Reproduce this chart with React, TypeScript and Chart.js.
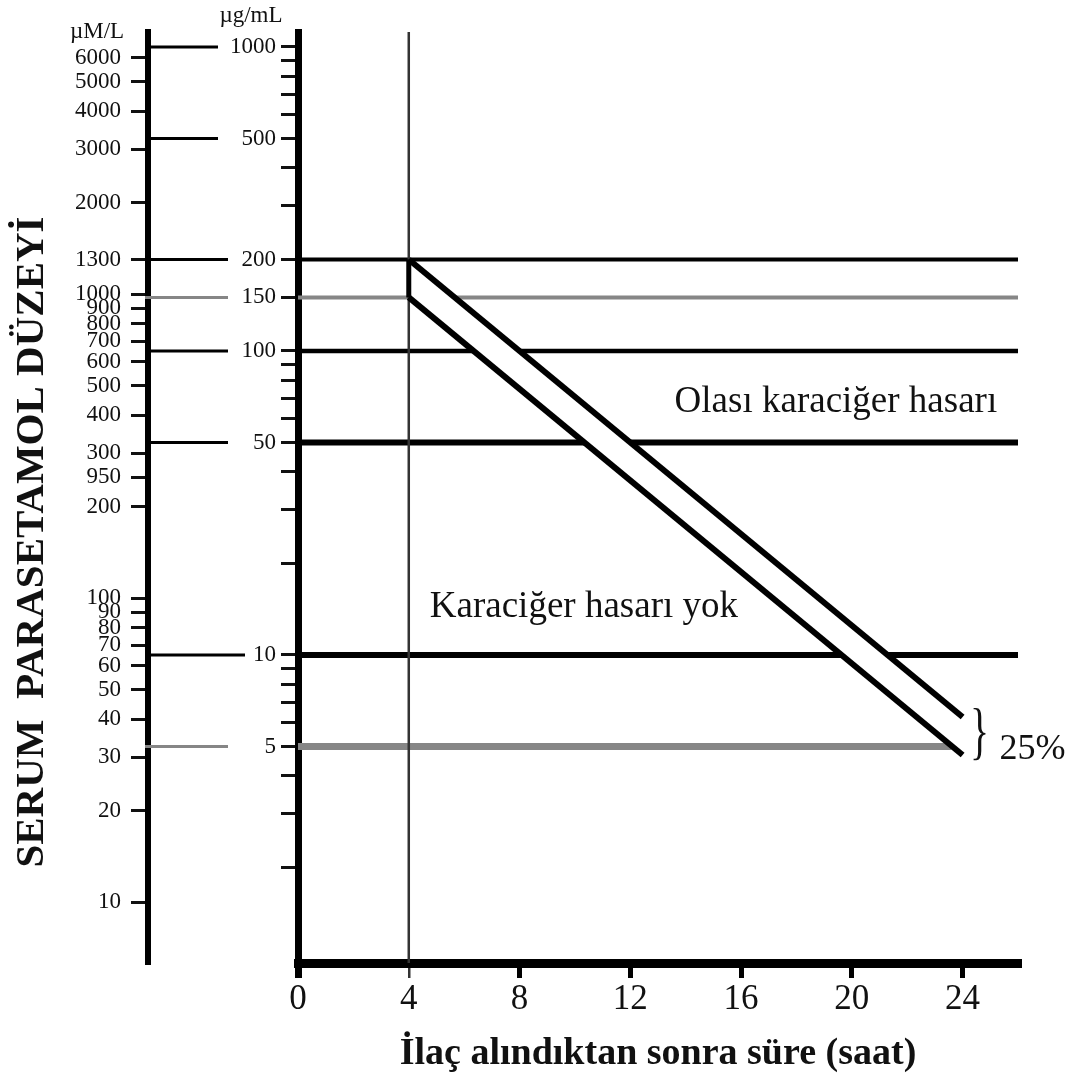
import React, { useEffect, useRef } from 'react';
import { Chart, registerables } from 'chart.js';

Chart.register(...registerables);

// ---------- data ----------
const HOUR_TICKS = [0, 4, 8, 12, 16, 20, 24];
const UG_TICKS = [1000, 900, 800, 700, 600, 500, 400, 300, 200, 150, 100, 90, 80, 70, 60, 50, 40, 30, 20, 10, 9, 8, 7, 6, 5, 4, 3, 2];
const UG_LABELED = [1000, 500, 200, 150, 100, 50, 10, 5];
const UM_TICKS = [6000, 5000, 4000, 3000, 2000, 1300, 1000, 900, 800, 700, 600, 500, 400, 300, 250, 200, 100, 90, 80, 70, 60, 50, 40, 30, 20, 10];
const UM_LABELS = ['6000', '5000', '4000', '3000', '2000', '1300', '1000', '900', '800', '700', '600', '500', '400', '300', '950', '200', '100', '90', '80', '70', '60', '50', '40', '30', '20', '10'];
const UM_PER_UG = 6.5;
const LEVELS = [200, 150, 100, 50, 10, 5];
const LEVEL_END_HOURS = [26, 26, 26, 26, 26, 23.6];
const CONNECTOR_LEVELS = [1000, 500, 200, 150, 100, 50, 10, 5];
const UPPER_LINE = [{ x: 4, y: 200 }, { x: 24, y: 6.25 }];
const LOWER_LINE = [{ x: 4, y: 150 }, { x: 24, y: 4.6875 }];
const REF_HOUR = 4;
const X_MIN = 0, X_MAX = 26, Y_MIN = 0.97, Y_MAX = 1120;
const ANNOTATIONS = [
  { text: 'Olası karaciğer hasarı', x: 13.6, y: 63 },
  { text: 'Karaciğer hasarı yok', x: 4.76, y: 13.3 },
];
const BAND_LABEL = '25%';
const X_TITLE = 'İlaç alındıktan sonra süre (saat)';
const Y_TITLE = 'SERUM  PARASETAMOL DÜZEYİ';
const UM_UNIT = 'µM/L';
const UG_UNIT = 'µg/mL';

// ---------- styles ----------
const SERIF = "'Liberation Serif', 'Times New Roman', serif";
const INK = '#111';
const GRAY = '#868686';
const LEVEL_STYLE: Record<number, { color: string; width: number }> = {
  200: { color: '#000', width: 4 },
  150: { color: GRAY, width: 4 },
  100: { color: '#000', width: 4.5 },
  50: { color: '#000', width: 6 },
  10: { color: '#000', width: 6 },
  5: { color: GRAY, width: 7 },
};
const CONNECTOR_STYLE: Record<number, { from: number; to: number; color: string }> = {
  1000: { from: 151, to: 218, color: '#000' },
  500: { from: 151, to: 218, color: '#000' },
  200: { from: 151, to: 228, color: '#000' },
  150: { from: 145, to: 228, color: GRAY },
  100: { from: 151, to: 228, color: '#000' },
  50: { from: 151, to: 228, color: '#000' },
  10: { from: 151, to: 245, color: '#000' },
  5: { from: 145, to: 228, color: GRAY },
};

const decorPlugin = {
  id: 'decor',
  afterDraw(chart: any) {
    const ctx = chart.ctx as CanvasRenderingContext2D;
    const xs = chart.scales.x;
    const ys = chart.scales.y;
    ctx.save();
    // connectors between the two concentration scales
    ctx.lineCap = 'butt';
    for (const lv of CONNECTOR_LEVELS) {
      const st = CONNECTOR_STYLE[lv];
      const py = ys.getPixelForValue(lv);
      ctx.strokeStyle = st.color;
      ctx.lineWidth = 3;
      ctx.beginPath();
      ctx.moveTo(st.from, py);
      ctx.lineTo(st.to, py);
      ctx.stroke();
    }
    ctx.fillStyle = INK;
    // unit headers
    ctx.font = `23px ${SERIF}`;
    ctx.textAlign = 'center';
    ctx.textBaseline = 'alphabetic';
    ctx.fillText(UM_UNIT, 97, 38);
    ctx.fillText(UG_UNIT, 251, 22);
    // annotations
    ctx.font = `37px ${SERIF}`;
    ctx.textAlign = 'left';
    for (const a of ANNOTATIONS) {
      ctx.fillText(a.text, xs.getPixelForValue(a.x), ys.getPixelForValue(a.y));
    }
    // brace + 25%
    const endX = xs.getPixelForValue(UPPER_LINE[1].x);
    const midY = (ys.getPixelForValue(UPPER_LINE[1].y) + ys.getPixelForValue(LOWER_LINE[1].y)) / 2;
    ctx.save();
    ctx.translate(endX + 17, midY - 1);
    ctx.scale(0.62, 1);
    ctx.font = `64px ${SERIF}`;
    ctx.textAlign = 'center';
    ctx.textBaseline = 'middle';
    ctx.fillText('}', 0, 0);
    ctx.restore();
    ctx.font = `36px ${SERIF}`;
    ctx.textAlign = 'left';
    ctx.textBaseline = 'alphabetic';
    ctx.fillText(BAND_LABEL, endX + 37, midY + 23);
    // y title
    ctx.save();
    ctx.translate(43, 542);
    ctx.rotate(-Math.PI / 2);
    ctx.font = `bold 41px ${SERIF}`;
    ctx.textAlign = 'center';
    ctx.textBaseline = 'alphabetic';
    ctx.fillText(Y_TITLE, 0, 0);
    ctx.restore();
    ctx.restore();
  },
};

function lineDs(data: any[], color: string, width: number, extra: any = {}) {
  return {
    data,
    borderColor: color,
    borderWidth: width,
    pointRadius: 0,
    pointHoverRadius: 0,
    tension: 0,
    fill: false,
    borderCapStyle: 'butt',
    ...extra,
  };
}

export default function App() {
  const ref = useRef<HTMLCanvasElement>(null);
  useEffect(() => {
    const horizontals = LEVELS.map((lv, i) =>
      lineDs([{ x: X_MIN, y: lv }, { x: LEVEL_END_HOURS[i], y: lv }], LEVEL_STYLE[lv].color, LEVEL_STYLE[lv].width)
    );
    const datasets: any[] = [
      lineDs([{ x: REF_HOUR, y: LOWER_LINE[0].y }, { x: REF_HOUR, y: UPPER_LINE[0].y }], '#000', 5),
      lineDs(LOWER_LINE, '#000', 6),
      lineDs(UPPER_LINE, '#000', 6, { fill: 1, backgroundColor: '#fff' }),
      lineDs([{ x: REF_HOUR, y: Y_MIN }, { x: REF_HOUR, y: Y_MAX }], '#333', 2.5),
      ...horizontals,
    ];
    const tickFont = { family: SERIF, size: 23 };
    const chart = new Chart(ref.current!, {
      type: 'line',
      data: { datasets },
      plugins: [decorPlugin],
      options: {
        animation: false,
        responsive: false,
        maintainAspectRatio: false,
        devicePixelRatio: 1,
        events: [],
        layout: { padding: { left: 0, right: 60, top: 32, bottom: 0 } },
        plugins: { legend: { display: false }, tooltip: { enabled: false } },
        scales: {
          x: {
            type: 'linear',
            min: X_MIN,
            max: X_MAX,
            afterBuildTicks: (s: any) => { s.ticks = HOUR_TICKS.map((v) => ({ value: v })); },
            afterFit: (s: any) => { s.height = 116; },
            ticks: {
              autoSkip: false,
              maxRotation: 0,
              padding: 1,
              color: INK,
              font: { family: SERIF, size: 35 },
              callback: (v: any) => String(v),
            },
            grid: {
              display: true,
              drawOnChartArea: false,
              drawTicks: true,
              tickLength: 15,
              color: (c: any) => (c.tick && c.tick.value === REF_HOUR ? '#333' : '#000'),
              lineWidth: (c: any) => (c.tick && c.tick.value === REF_HOUR ? 2.5 : c.tick && c.tick.value === 0 ? 7 : 5),
            },
            border: { display: true, width: 9, color: '#000' },
            title: {
              display: true,
              text: X_TITLE,
              color: INK,
              font: { family: SERIF, size: 38, weight: 'bold' },
              padding: { top: 0, bottom: 2 },
            },
          },
          y: {
            type: 'logarithmic',
            position: 'left',
            weight: 0,
            min: Y_MIN,
            max: Y_MAX,
            afterBuildTicks: (s: any) => { s.ticks = UG_TICKS.map((v) => ({ value: v })); },
            afterFit: (s: any) => { s.width = 150; },
            ticks: {
              autoSkip: false,
              padding: 5,
              color: INK,
              font: tickFont,
              callback: (v: any) => (UG_LABELED.includes(Number(v)) ? String(v) : ''),
            },
            grid: { display: true, drawOnChartArea: false, drawTicks: true, tickLength: 17, lineWidth: 3, color: '#111' },
            border: { display: true, width: 7, color: '#000' },
          },
          um: {
            type: 'logarithmic',
            position: 'left',
            weight: 1,
            min: Y_MIN * UM_PER_UG,
            max: Y_MAX * UM_PER_UG,
            afterBuildTicks: (s: any) => { s.ticks = UM_TICKS.map((v) => ({ value: v })); },
            afterFit: (s: any) => { s.width = 148; },
            ticks: {
              autoSkip: false,
              padding: 10,
              color: INK,
              font: tickFont,
              callback: (v: any) => {
                const i = UM_TICKS.indexOf(Number(v));
                return i >= 0 ? UM_LABELS[i] : '';
              },
            },
            grid: { display: true, drawOnChartArea: false, drawTicks: true, tickLength: 17, lineWidth: 3, color: '#111' },
            border: { display: true, width: 6, color: '#000' },
          },
        },
      } as any,
    });
    return () => chart.destroy();
  }, []);
  return (
    <div style={{ position: 'fixed', left: 0, top: 0, width: 1078, height: 1079, background: '#fff' }}>
      <canvas ref={ref} width={1078} height={1079} style={{ display: 'block', width: 1078, height: 1079 }} />
    </div>
  );
}
